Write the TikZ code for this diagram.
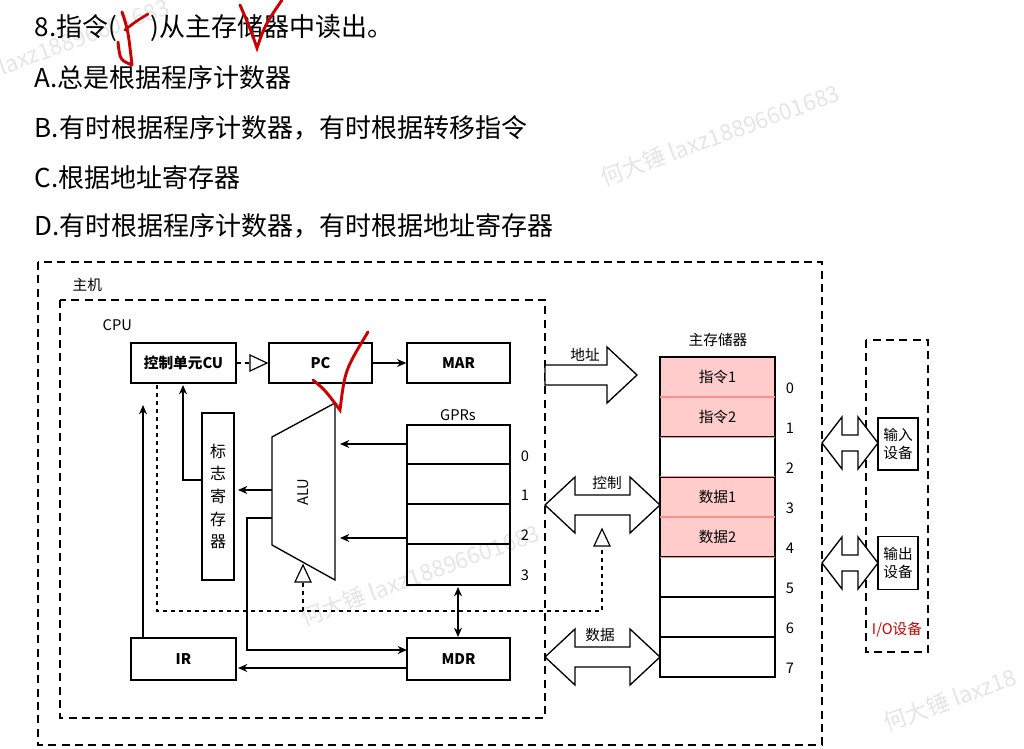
\documentclass[tikz,border=0pt]{standalone}
\usepackage{fontspec}
\setmainfont{Noto Sans CJK SC}
\usetikzlibrary{arrows.meta}
\tikzset{
 box/.style={draw,line width=1pt,minimum height=40*0.75pt,inner sep=0pt},
 ln/.style={line width=1pt},
 arr/.style={ln,-{Stealth[length=7pt,width=6pt]}},
 dsh/.style={line width=0.9pt,dash pattern=on 3pt off 3pt},
 bigd/.style={line width=1.6pt,dash pattern=on 6pt off 4pt},
 q/.style={anchor=west,font=\fontsize{19.5}{19.5}\selectfont},
 lb/.style={font=\fontsize{11}{11}\selectfont},
 wm/.style={text=black!10,rotate=20,font=\fontsize{17}{17}\selectfont}
}
\newcommand\fatdbl[6]{% x1, x2, y, headlen, bodyhalf, headhalf
 \draw[line width=1pt,fill=white] (#1,#3) -- (#1+#4,#3-#6) -- (#1+#4,#3-#5) -- (#2-#4,#3-#5) -- (#2-#4,#3-#6) -- (#2,#3) -- (#2-#4,#3+#6) -- (#2-#4,#3+#5) -- (#1+#4,#3+#5) -- (#1+#4,#3+#6) -- cycle;}
\begin{document}
\begin{tikzpicture}[x=0.75pt,y=-0.75pt]
\useasboundingbox (0,0) rectangle (1024,749);
% watermarks
\node[wm] at (60,45) {大锤 laxz18896601683};
\node[wm] at (720,135) {何大锤 laxz18896601683};
\node[wm] at (420,575) {何大锤 laxz18896601683};
\node[wm] at (950,700) {何大锤 laxz18};
% question
\node[q] (q0) at (30,28) {8.指令(\hspace{1.3em})从主存储器中读出。};
\node[q] (qa) at (30,78) {A.总是根据程序计数器};
\node[q] (qb) at (30,128) {B.有时根据程序计数器，有时根据转移指令};
\node[q] (qc) at (30,178) {C.根据地址寄存器};
\node[q] (qd) at (30,226) {D.有时根据程序计数器，有时根据地址寄存器};
% frames
\draw[bigd] (38,262) rectangle (822,745);
\node[lb,anchor=west] (zj) at (68,285) {主机};
\draw[bigd] (60,300) rectangle (545,718);
\node[lb,anchor=west] (cpu) at (98,325) {CPU};
\draw[bigd] (866,340) rectangle (928,652);
\node[lb,text=red!80!black] (io) at (897,630) {I/O设备};
% boxes
\node[box,minimum width=105*0.75pt,font=\bfseries\fontsize{11}{11}\selectfont] (cu) at (183.5,363) {控制单元CU};
\node[box,minimum width=103*0.75pt,font=\bfseries\fontsize{11}{11}\selectfont] (pc) at (320.5,363) {PC};
\node[box,minimum width=103*0.75pt,font=\bfseries\fontsize{11}{11}\selectfont] (mar) at (458.5,363) {MAR};
\node[box,minimum width=105*0.75pt,minimum height=42*0.75pt,font=\bfseries\fontsize{11}{11}\selectfont] (ir) at (183.5,659) {IR};
\node[box,minimum width=103*0.75pt,minimum height=42*0.75pt,font=\bfseries\fontsize{11}{11}\selectfont] (mdr) at (458.5,659) {MDR};
\node[box,minimum width=32*0.75pt,minimum height=167*0.75pt,align=center,font=\fontsize{12}{17}\selectfont] (flag) at (218,496.5) {标\\志\\寄\\存\\器};
% ALU
\draw[ln] (272,437) -- (335,403) -- (335,580) -- (272,545) -- cycle;
\node[lb,rotate=90] (alu) at (303,492) {ALU};
% GPRs
\node[box,minimum width=103*0.75pt,minimum height=160*0.75pt] (gpr) at (458.5,505) {};
\foreach \yy in {464,504,544} \draw[ln] (407,\yy) -- (510,\yy);
\node[lb] (gl) at (458,415) {GPRs};
\foreach \n/\yy in {0/456,1/495,2/535,3/575} \node[lb] at (525,\yy) {\n};
% connectors
\draw[dsh] (cu.east) -- (250,363);
\draw[line width=0.9pt,fill=white] (250,355) -- (267,363) -- (250,371) -- cycle;
\draw[arr] (pc) -- (mar);
\draw[arr] (407,444) -- (340,444);
\draw[arr] (407,538) -- (340,538);
\draw[arr] (272,490) -- (238,490);
\draw[arr] (flag.west |- 0,480) -- (183,480) -- (183,385);
\draw[arr] (143,638) -- (143,405);
\draw[arr,{Stealth[length=7pt,width=6pt]}-{Stealth[length=7pt,width=6pt]}] (458,587) -- (458,637);
\draw[arr] (272,518) -- (247,518) -- (247,650) -- (407,650);
\draw[arr] (407,668) -- (238,668);
\draw[dsh] (157,385) -- (157,611) -- (602,611) -- (602,548);
\draw[dsh] (303,611) -- (303,582);
\draw[line width=0.9pt,fill=white] (295,582) -- (303,565) -- (311,582) -- cycle;
\draw[line width=0.9pt,fill=white] (594,546) -- (602,529) -- (610,546) -- cycle;
% memory
\node[lb] (mm) at (718,340) {主存储器};
\foreach \i/\t/\f in {0/指令1/1,1/指令2/1,2//0,3/数据1/1,4/数据2/1,5//0,6//0,7//0}{
  \ifnum\f=1 \def\fc{red!20}\else\def\fc{white}\fi
  \node[box,minimum width=115*0.75pt,fill=\fc,lb] (m\i) at (717.5,377+40*\i) {\t};
  \node[lb] at (790,388+40*\i) {\i};
}
\foreach \i in {0,1,3,4} \draw[line width=1pt,draw=red!45] (m\i.north west) rectangle (m\i.south east);
\draw[line width=1pt] (m0.north west) rectangle (m7.south east);
% fat arrows
\draw[line width=1pt,fill=white] (545,365) -- (607,365) -- (607,347) -- (637,375) -- (607,403) -- (607,385) -- (545,385) -- cycle;
\node[lb] (ad) at (585,355) {地址};
\fatdbl{545}{660}{505}{30}{10}{28}
\node[lb] (kz) at (607,483) {控制};
\fatdbl{545}{660}{657}{30}{10}{28}
\node[lb] (sj) at (600,635) {数据};
\fatdbl{822}{878}{443}{20}{8}{26}
\fatdbl{822}{878}{563}{20}{8}{26}
\node[draw,line width=1pt,minimum width=40*0.75pt,minimum height=52*0.75pt,align=center,inner sep=0pt,font=\fontsize{11}{13}\selectfont] (in) at (898,444) {输入\\设备};
\node[draw,line width=1pt,minimum width=40*0.75pt,minimum height=53*0.75pt,align=center,inner sep=0pt,font=\fontsize{11}{13}\selectfont] (out) at (898,563) {输出\\设备};
% handwritten marks
\draw[red!80!black,line width=2.2pt,line cap=round] (118,42) .. controls (120,60) .. (132,65) (132,65) .. controls (128,30) .. (122,12);
\draw[red!80!black,line width=2pt,line cap=round] (125,30) .. controls (135,22) .. (148,14);
\draw[red!80!black,line width=2.2pt,line cap=round] (240,5) .. controls (250,28) .. (257,48) .. controls (265,25) .. (282,0);
\draw[red!80!black,line width=2.2pt,line cap=round] (313,380) .. controls (325,390) .. (340,410) .. controls (345,370) .. (368,332);
\end{tikzpicture}
\end{document}
